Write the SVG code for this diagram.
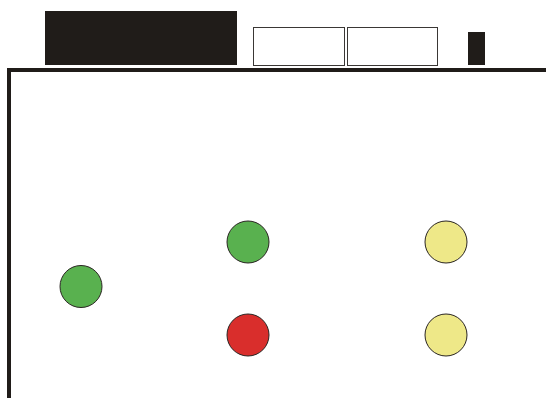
<svg xmlns="http://www.w3.org/2000/svg" width="546" height="398" viewBox="0 0 546 398">
<style>
.dark{fill:#201c19}
.box{fill:#fff;stroke:#3a3735;stroke-width:1}
.c{stroke:#2a2522;stroke-width:1}
.g{fill:#59b14f}
.r{fill:#d92e2c}
.y{fill:#eee888}
</style>
<rect width="546" height="398" fill="#fff"/>
<g id="header">
<rect class="dark" x="45" y="11" width="192" height="54"/>
<rect class="box" x="253.5" y="27.5" width="91" height="38"/>
<rect class="box" x="347.5" y="27.5" width="90" height="38"/>
<rect class="dark" x="468" y="32" width="17" height="33"/>
</g>
<g id="frame">
<rect class="dark" x="7" y="68" width="539" height="4"/>
<rect class="dark" x="7" y="68" width="4" height="330"/>
</g>
<g id="n1"><circle class="c g" cx="81" cy="286.5" r="21"/></g>
<g id="n2"><circle class="c g" cx="248" cy="242" r="21"/></g>
<g id="n3"><circle class="c r" cx="248" cy="335" r="21"/></g>
<g id="n4"><circle class="c y" cx="446" cy="242" r="21"/></g>
<g id="n5"><circle class="c y" cx="446" cy="335" r="21"/></g>
<g id="connectors"></g>
</svg>
